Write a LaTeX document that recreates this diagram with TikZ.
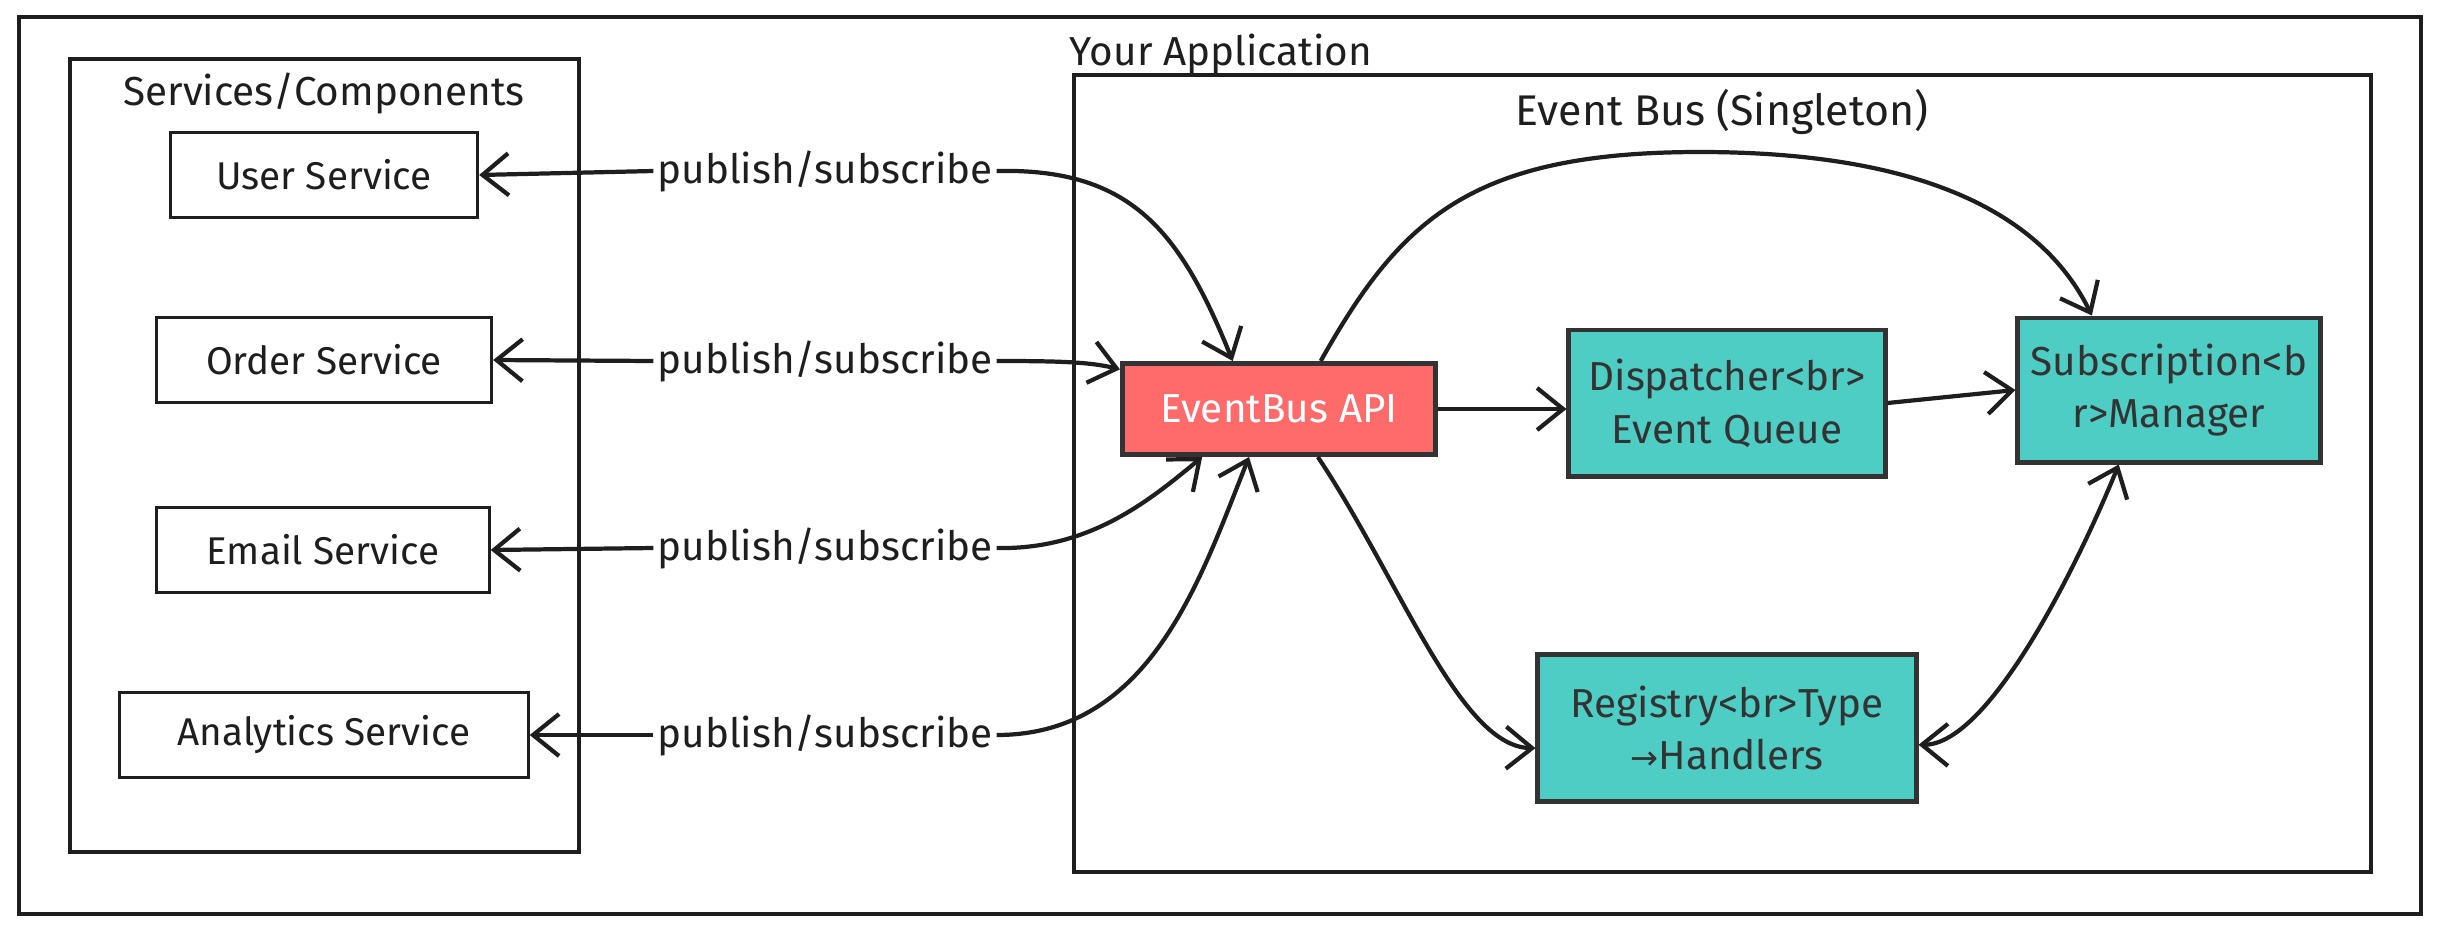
\documentclass[tikz,border=0pt]{standalone}
\usepackage{fontspec}
\setmainfont{Fira Sans}
\newfontfamily\arrowfont{DejaVu Sans}
\usetikzlibrary{positioning,arrows.meta}
\definecolor{apired}{HTML}{FF6B6B}
\definecolor{coreteal}{HTML}{4ECDC4}
\definecolor{inkgray}{HTML}{1E1E1E}

\begin{document}
\begin{tikzpicture}[x=0.01cm, y=-0.01cm,
framebox/.style={draw=inkgray, line width=1pt},
titlenode/.style={font=\fontsize{11.5}{13}\selectfont, text=inkgray},
servicenode/.style={rectangle, draw=inkgray, line width=0.9pt, minimum height=0.85cm, font=\fontsize{11}{13}\selectfont, text=inkgray},
apinode/.style={rectangle, draw=black!80, fill=apired, line width=1.4pt, text=white, font=\fontsize{11.5}{13}\selectfont},
corenode/.style={rectangle, draw=black!80, fill=coreteal, line width=1.4pt, align=center, text=black!80, font=\fontsize{11.5}{15}\selectfont},
pslabel/.style={font=\fontsize{11.5}{13}\selectfont, text=inkgray, inner sep=1pt},
link/.style={-{Straight Barb[length=2.6mm,width=4.2mm]}, line width=1.2pt, draw=inkgray},
twoway/.style={{Straight Barb[length=2.6mm,width=4.2mm]}-{Straight Barb[length=2.6mm,width=4.2mm]}, line width=1.2pt, draw=inkgray}
]
    \useasboundingbox (0,0) rectangle (2441,933);

    %Frames
    \draw[framebox] (19,17) rectangle (2421,914);
    \draw[framebox] (70,59) rectangle (579,852);
    \draw[framebox] (1074,75) rectangle (2371,872);
    \node[titlenode] (apptitle) at (1221,54) {Your Application};
    \node[titlenode] (svctitle) at (324,93) {Services/Components};
    \node[titlenode, font=\fontsize{12.2}{14}\selectfont] (bustitle) at (1722,112) {Event Bus (Singleton)};

    %Nodes
    \node[servicenode, minimum width=3.07cm] (user) at (324,175) {User Service};
    \node[servicenode, minimum width=3.35cm] (order) at (324,360) {Order Service};
    \node[servicenode, minimum width=3.32cm] (email) at (323,550) {Email Service};
    \node[servicenode, minimum width=4.08cm] (analytics) at (324,735) {Analytics Service};

    \node[apinode, minimum width=3.13cm, minimum height=0.91cm] (api) at (1279,409) {EventBus API};
    \node[corenode, minimum width=3.16cm, minimum height=1.46cm] (disp) at (1727,403)
        {Dispatcher<br>\\Event Queue};
    \node[corenode, minimum width=3.02cm, minimum height=1.44cm] (sub) at (2169,390)
        {Subscription<b\\r>Manager};
    \node[corenode, minimum width=3.78cm, minimum height=1.47cm] (reg) at (1727,728)
        {Registry<br>Type\\{\arrowfont\fontsize{9.5}{15}\selectfont →}Handlers};

    \node[pslabel] (ps1) at (825,171) {publish/subscribe};
    \node[pslabel] (ps2) at (825,361) {publish/subscribe};
    \node[pslabel] (ps3) at (825,548) {publish/subscribe};
    \node[pslabel] (ps4) at (825,735) {publish/subscribe};

    %Lines
    \draw[link] (ps1.west) -- (user.east);
    \draw[link] (ps2.west) -- (order.east);
    \draw[link] (ps3.west) -- (email.east);
    \draw[link] (ps4.west) -- (analytics.east);

    \draw[link] (ps1.east) .. controls (1130,168) and (1180,230) .. (api.134);
    \draw[link] (ps2.east) .. controls (1060,361) and (1090,362) .. (api.166);
    \draw[link] (ps3.east) .. controls (1090,550) and (1150,500) .. (api.212);
    \draw[link] (ps4.east) .. controls (1150,735) and (1200,580) .. (api.238);

    \draw[link] (api.east) -- (api.east -| disp.west);
    \draw[link] (disp.east) -- (sub.west);
    \draw[link] (api.49) .. controls (1400,220) and (1470,152) .. (1700,152)
        .. controls (1950,152) and (2050,230) .. (sub.136);
    \draw[link] (api.309) .. controls (1400,580) and (1460,747) .. (reg.186);
    \draw[twoway] (reg.355) .. controls (1990,745) and (2080,560) .. (sub.236);
\end{tikzpicture}
\end{document}
